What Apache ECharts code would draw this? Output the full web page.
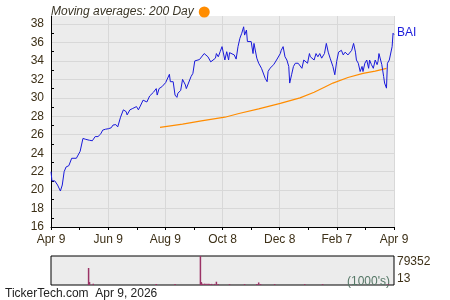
<!DOCTYPE html>
<html><head><meta charset="utf-8">
<script src="https://cdn.jsdelivr.net/npm/echarts@6/dist/echarts.min.js"></script>
<style>html,body{margin:0;padding:0;background:#fff}#c{width:450px;height:300px}</style>
</head><body><div id="c"></div>
<script>
// x values are days since Apr 9, 2025
const xTickLabels = ['Apr 9','Jun 9','Aug 9','Oct 8','Dec 8','Feb 7','Apr 9'];
const seriesName = 'BAI';
const maName = '200 Day';
const footerText = 'TickerTech.com  Apr 9, 2026';
const priceDays = [0,1,4,6,7,10,12,14,16,19,21,22,24,27,29,31,34,37,39,41,43,44,47,48,50,52,53,55,58,61,64,66,68,69,71,74,77,80,81,84,87,89,91,93,95,98,100,102,105,107,109,112,113,115,118,120,122,124,126,127,130,132,134,135,138,140,143,144,146,149,151,153,155,158,160,163,165,167,170,172,175,176,178,180,182,183,185,187,189,190,192,195,197,199,201,203,205,206,208,209,211,213,215,216,219,221,222,224,226,228,230,231,233,235,237,238,240,242,244,245,247,249,251,253,254,256,258,260,261,263,265,267,269,271,273,275,276,278,280,282,284,286,288,291,293,295,297,299,300,302,304,306,308,309,311,313,315,316,318,320,322,324,325,327,329,331,332,334,336,338,339,341,343,345,347,348,349,351,352,354,355,357,358,360,361,363,364,365];
const baiClose = [22.0,21.0,21.0,21.1,20.55,19.9,20.55,22.0,22.5,22.65,22.6,23.45,23.6,23.45,23.6,24.2,25.6,25.5,25.5,25.4,25.6,25.35,25.8,26.0,25.8,25.9,26.1,26.5,26.6,26.65,26.75,27.05,26.85,27.1,26.85,27.9,28.7,28.5,28.15,28.7,28.85,28.7,29.05,28.7,29.1,29.75,29.9,29.55,30.2,30.4,30.6,31.0,30.3,31.0,31.2,31.4,31.65,31.5,32.55,31.75,31.75,30.3,30.05,30.5,30.8,32.0,31.4,31.0,31.2,32.3,32.65,34.0,33.9,34.15,34.1,34.8,35.0,34.45,33.9,33.9,34.3,34.8,34.45,35.0,35.55,35.7,34.1,35.0,34.1,34.9,34.85,34.65,34.2,35.55,36.45,37.0,37.7,36.8,37.35,36.1,35.9,36.1,34.8,35.9,34.3,33.75,33.6,33.2,33.0,32.1,31.75,32.85,33.2,33.4,33.6,33.75,34.1,34.3,34.8,35.15,35.55,34.45,34.1,33.4,31.6,32.5,33.4,33.75,33.95,33.75,33.95,33.2,34.1,34.3,33.75,34.8,34.45,34.65,34.1,34.8,34.45,34.8,34.3,34.8,35.9,34.95,34.3,34.1,33.4,32.5,33.95,34.95,34.8,35.15,34.65,34.95,34.8,34.65,34.8,35.15,35.9,34.95,34.1,33.75,32.85,33.4,32.85,33.75,34.1,33.2,34.1,33.6,33.2,34.1,33.6,33.95,34.8,34.95,33.6,32.3,31.6,31.05,33.75,34.1,34.3,35.55,37.0,36.85];
const maDays = [116,140,160,185,200,221,244,265,280,292,300,316,332,345,357];
const ma200 = [26.8,27.15,27.5,27.9,28.3,28.8,29.4,30.0,30.6,31.2,31.6,32.2,32.65,32.9,33.2];
const volDays = [40,41,45,112,132,159,160,161,163,164,166,168,169,171,174,176,178,190,206,219,221,223,238,270,289,359];
const volumes = [46500,8000,3500,2500,2500,79352,8000,3500,3500,3500,3500,3500,3000,3000,3000,9000,2500,2500,2500,2500,7000,2500,2500,2500,2500,2500];
const volMin = 13, volMax = 79352;

const FONT = 'Liberation Sans, Arial, sans-serif';
const LBL = '#3d3017';
const pair = (xs, ys) => xs.map((x, i) => [x, ys[i]]);
const step = 365 / 6;

const chart = echarts.init(document.getElementById('c'), null, {renderer: 'canvas'});
chart.setOption({
  animation: false,
  textStyle: {fontFamily: FONT},
  legend: {
    left: 46, top: 1, icon: 'circle', itemWidth: 11, itemHeight: 11, align: 'right',
    data: [{name: maName, itemStyle: {color: '#ff8c00'}}],
    formatter: 'Moving averages: {name}',
    textStyle: {fontStyle: 'italic', fontSize: 12, color: '#3a3526', fontFamily: FONT},
    selectedMode: false
  },
  grid: [
    {left: 51, top: 16, width: 343, height: 211, show: true, backgroundColor: '#ececec', borderWidth: 0},
    {left: 51, top: 256, width: 343, height: 29, show: true, backgroundColor: '#ececec', borderColor: '#000', borderWidth: 1}
  ],
  xAxis: [
    {
      type: 'value', gridIndex: 0, min: 0, max: 365, interval: step,
      axisLine: {show: true, lineStyle: {color: '#000', width: 1}},
      axisTick: {show: true, length: 3, lineStyle: {color: '#000'}},
      minorTick: {show: true, splitNumber: 2, length: 3, lineStyle: {color: '#000'}},
      axisLabel: {
        margin: 7, fontSize: 12, color: LBL, fontFamily: FONT,
        formatter: v => xTickLabels[Math.round(v / step)] || ''
      },
      splitLine: {show: true, lineStyle: {color: '#d8d8d8', width: 1}}
    },
    {
      type: 'value', gridIndex: 1, min: 0, max: 365,
      axisLine: {show: false}, axisTick: {show: false}, axisLabel: {show: false}, splitLine: {show: false}
    }
  ],
  yAxis: [
    {
      type: 'value', gridIndex: 0, min: 16, max: 38.87, interval: 2,
      axisLine: {show: true, lineStyle: {color: '#000', width: 1}},
      axisTick: {show: false, inside: true},
      minorTick: {show: true, splitNumber: 2, length: 3, lineStyle: {color: '#000'}},
      axisLabel: {
        margin: 7, fontSize: 12, color: LBL, fontFamily: FONT,
        formatter: v => (Math.abs(v - Math.round(v)) < 1e-6 && Math.round(v) % 2 === 0) ? String(Math.round(v)) : ''
      },
      splitLine: {show: true, showMaxLine: false, lineStyle: {color: '#d8d8d8', width: 1}}
    },
    {
      type: 'value', gridIndex: 1, min: volMin, max: volMax, position: 'right', splitNumber: 1,
      axisLine: {show: false}, axisTick: {show: false}, splitLine: {show: false},
      axisLabel: {
        margin: 3, fontSize: 12, color: LBL, fontFamily: FONT,
        verticalAlignMaxLabel: 'top', verticalAlignMinLabel: 'bottom',
        formatter: v => (v === volMin || v === volMax) ? String(v) : ''
      }
    }
  ],
  series: [
    {
      name: seriesName, type: 'line', xAxisIndex: 0, yAxisIndex: 0,
      data: pair(priceDays, baiClose), showSymbol: false, symbol: 'none',
      lineStyle: {color: '#1a1adb', width: 1}, itemStyle: {color: '#1a1adb'},
      endLabel: {show: true, formatter: seriesName, color: '#1a1adb', fontSize: 12, distance: 3, fontFamily: FONT, offset: [0, -2]},
      z: 3
    },
    {
      name: maName, type: 'line', xAxisIndex: 0, yAxisIndex: 0,
      data: pair(maDays, ma200), showSymbol: false, symbol: 'none',
      lineStyle: {color: '#ff8c00', width: 1.2}, itemStyle: {color: '#ff8c00'}, z: 2
    },
    {
      name: 'Volume', type: 'bar', xAxisIndex: 1, yAxisIndex: 1,
      data: pair(volDays, volumes), barWidth: 1.5,
      itemStyle: {color: '#9b3366'}
    }
  ],
  graphic: [
    {type: 'text', right: 60, top: 276, style: {text: "(1000's)", fill: '#557766', font: '12px ' + FONT}},
    {type: 'text', left: 5, top: 288, style: {text: footerText, fill: '#222', font: '12px ' + FONT}}
  ]
});
</script></body></html>
